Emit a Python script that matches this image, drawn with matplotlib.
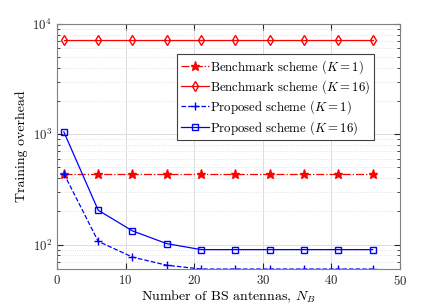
import matplotlib
matplotlib.use("Agg")
import matplotlib.pyplot as plt
from matplotlib.ticker import LogLocator, NullFormatter

plt.rcParams['font.family'] = 'serif'
plt.rcParams['font.serif'] = ['cmr10']
plt.rcParams['mathtext.fontset'] = 'cm'
plt.rcParams['axes.formatter.use_mathtext'] = True

# number of BS antennas
n_b = [1, 6, 11, 16, 21, 26, 31, 36, 41, 46]

bench_k1 = [440] * 10
bench_k16 = [7200] * 10
prop_k1 = [440, 107, 77, 65, 60, 60, 60, 60, 60, 60]
prop_k16 = [1050, 205, 133, 102, 90, 90, 90, 90, 90, 90]

fig = plt.figure(figsize=(4.43, 3.04), dpi=100)
ax = fig.add_axes([0.1287, 0.115, 0.7743, 0.806])

ax.semilogy(n_b, bench_k1, 'r-.', marker='*', ms=6.5, lw=0.9,
            label=r'Benchmark scheme ($K=1$)')
ax.semilogy(n_b, bench_k16, 'r-', marker='d', ms=5, mfc='none', lw=0.9,
            label=r'Benchmark scheme ($K=16$)')
ax.semilogy(n_b, prop_k1, 'b--', marker='+', ms=6, lw=0.9,
            label=r'Proposed scheme ($K=1$)')
ax.semilogy(n_b, prop_k16, 'b-', marker='s', ms=4.5, mfc='none', lw=0.9,
            label=r'Proposed scheme ($K=16$)')

ax.set_xlim(0, 50)
ax.set_ylim(60, 1e4)
ax.set_xticks([0, 10, 20, 30, 40, 50])
ax.yaxis.set_major_locator(LogLocator(base=10, numticks=10))
ax.yaxis.set_minor_locator(LogLocator(base=10, subs=range(2, 10), numticks=20))
ax.yaxis.set_minor_formatter(NullFormatter())

ax.grid(True, which='major', color='#dcdcdc', lw=0.7)
ax.grid(True, which='minor', axis='y', color='#dcdcdc', lw=0.6, ls=':')
ax.set_axisbelow(True)
for s in ax.spines.values():
    s.set_color('#808080')
    s.set_linewidth(0.8)
ax.tick_params(which='both', direction='in', top=True, right=True, labelsize=9.3,
               colors='#262626')
ax.tick_params(which='major', length=4)
ax.tick_params(which='minor', length=2)

ax.set_xlabel(r'Number of BS antennas, $N_B$', fontsize=10, labelpad=1)
ax.set_ylabel('Training overhead', fontsize=10, labelpad=3)

leg = ax.legend(loc='upper right', bbox_to_anchor=(0.924, 0.878), fontsize=9.2,
                fancybox=False, framealpha=1, edgecolor='#404040',
                borderpad=0.3, labelspacing=0.2, handlelength=2.2,
                handletextpad=0.1, borderaxespad=0)
leg.get_frame().set_linewidth(0.8)

fig.savefig('out.png', dpi=100)
